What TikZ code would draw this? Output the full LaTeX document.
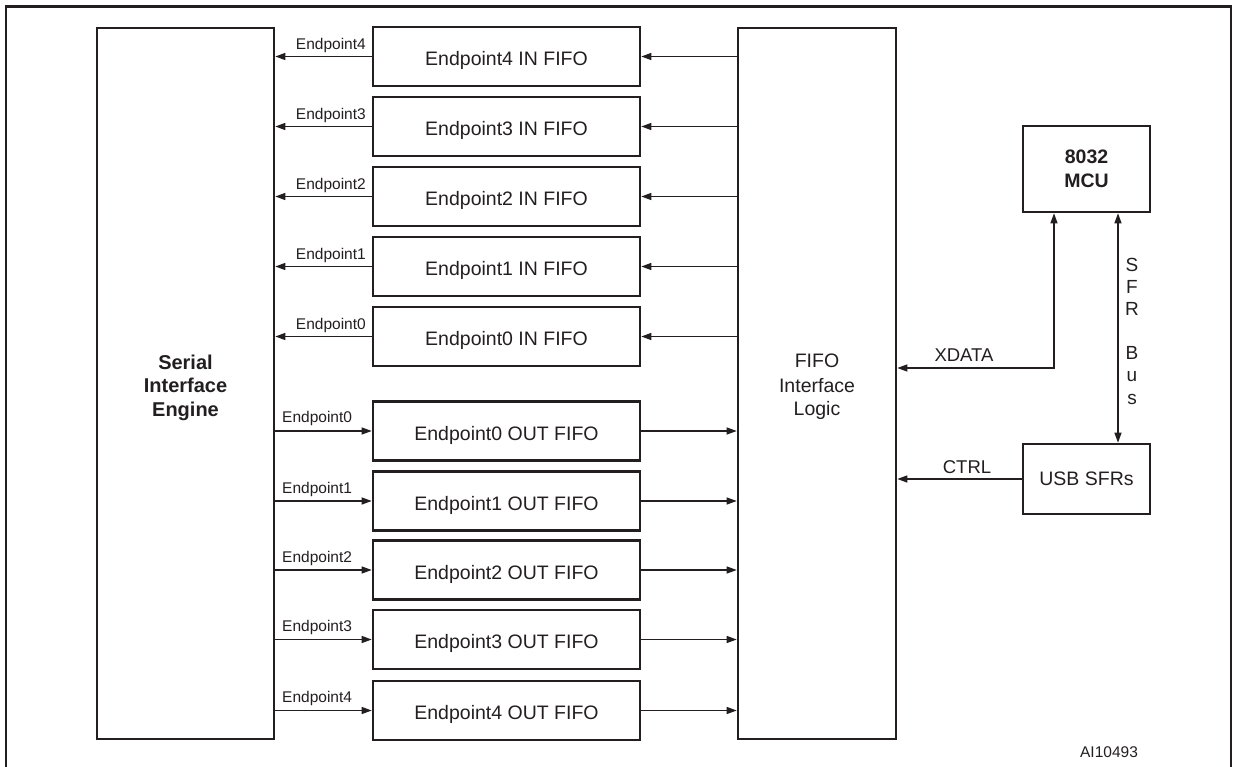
\documentclass[tikz,border=0pt]{standalone}
\usepackage{fontspec}
\setmainfont{Liberation Sans}
\usetikzlibrary{arrows.meta}
\definecolor{ink}{HTML}{231F20}
\tikzset{
  blk/.style={draw=ink, line width=2.6pt, inner sep=0pt, text=ink},
  fifobox/.style={blk, minimum width=267pt, minimum height=59pt, text height=18pt, text depth=0pt,
                  font=\fontsize{19.5}{23}\selectfont},
  conn/.style={draw=ink, line width=1.3pt, -{Triangle[length=10pt,width=7pt]}},
  biconn/.style={draw=ink, line width=1.3pt, {Triangle[length=10pt,width=7pt]}-{Triangle[length=10pt,width=7pt]}},
  eplabel/.style={text=ink, inner sep=0pt, font=\fontsize{15.5}{18}\selectfont},
  siglabel/.style={text=ink, inner sep=0pt, font=\fontsize{18.5}{22}\selectfont},
}
\begin{document}
\begin{tikzpicture}[x=1pt,y=-1pt]
\useasboundingbox (0,0) rectangle (1235,767);
% outer frame (bottom edge cut off)
\draw[ink, line width=2.6pt] (6,780) -- (6,6.5) -- (1231,6.5) -- (1231,780);

% main blocks
\node[blk, minimum width=177pt, minimum height=711pt, align=center,
      text height=66pt, text depth=0pt,
      font=\bfseries\fontsize{20}{23.5}\selectfont] (sie) at (185.5,383.5)
      {Serial\\Interface\\Engine};
\node[blk, minimum width=158pt, minimum height=711pt, align=center,
      text height=65pt, text depth=0pt,
      font=\fontsize{19.5}{24}\selectfont] (fifo) at (817,383.5)
      {FIFO\\Interface\\Logic};
\node[blk, minimum width=127pt, minimum height=86pt, align=center,
      font=\bfseries\fontsize{19.5}{24}\selectfont] (mcu) at (1086.5,169)
      {8032\\MCU};
\node[blk, minimum width=127pt, minimum height=70pt,
      font=\fontsize{19.5}{23}\selectfont] (usb) at (1086.5,479) {USB SFRs};

% IN FIFOs
\foreach \n/\y in {4/56.5, 3/126.5, 2/196.5, 1/266.5, 0/336.5}{
  \node[fifobox] (in\n) at (506.5,\y) {Endpoint\n\ IN FIFO};
  \draw[conn] (fifo.west |- in\n.east) -- (in\n.east);
  \draw[conn] (in\n.west) -- (sie.east |- in\n.west);
  \node[eplabel, anchor=base east] (inl\n) at (366,\y-7) {Endpoint\n};
}

% OUT FIFOs
\foreach \n/\y in {0/431, 1/501, 2/570, 3/639.5, 4/710.5}{
  \node[fifobox] (out\n) at (506.5,\y) {Endpoint\n\ OUT FIFO};
  \draw[conn] (sie.east |- out\n.west) -- (out\n.west);
  \draw[conn] (out\n.east) -- (fifo.west |- out\n.east);
  \node[eplabel, anchor=base west] (outl\n) at (282,\y-8) {Endpoint\n};
}

% XDATA
\coordinate (xd) at (1054,368);
\draw[biconn] (mcu.south -| xd) -- (xd) -- (fifo.east |- xd);
\node[siglabel, anchor=base] (xdl) at (964,362) {XDATA};

% SFR Bus
\coordinate (sb) at (1118,300);
\draw[biconn] (mcu.south -| sb) -- (usb.north -| sb);
\foreach \l/\y [count=\i] in {S/272, F/294, R/316, B/360, u/382, s/404}{
  \node[text=ink, inner sep=0pt, anchor=base, font=\fontsize{19}{22}\selectfont] (sfr\i) at (1132,\y) {\l};
}

% CTRL
\draw[conn] (usb.west) -- (fifo.east |- usb.west);
\node[siglabel, anchor=base] (ctrll) at (967,473) {CTRL};

% figure id
\node[eplabel, anchor=base] (aid) at (1109,757) {AI10493};
\end{tikzpicture}
\end{document}
